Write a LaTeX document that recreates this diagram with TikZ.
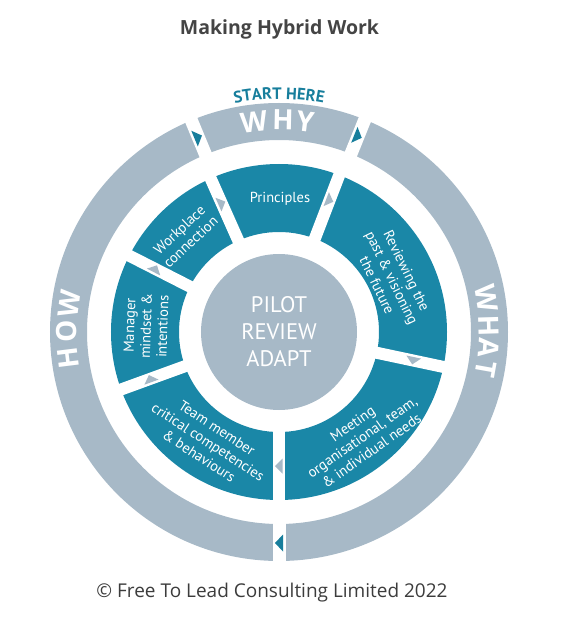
\documentclass[tikz,border=0pt]{standalone}
\usepackage{fontspec}
\setmainfont{Open Sans}
\newfontfamily\ptsans{PT Sans}
\usetikzlibrary{decorations.text}
\definecolor{tealseg}{HTML}{1A87A7}
\definecolor{tealdark}{HTML}{177E9C}
\definecolor{ringgray}{HTML}{A7B9C7}
\definecolor{titlegray}{HTML}{444444}
\definecolor{copygray}{HTML}{3C3C3C}
\begin{document}
\begin{tikzpicture}[x=1pt,y=1pt,
  segtext/.style={text=white, font=\ptsans\fontsize{14.5}{16.5}\selectfont, align=center, inner sep=0pt},
  ringletter/.style={text=white, font=\bfseries\fontsize{28}{28}\selectfont, anchor=base, inner sep=0pt},
  outercut/.style={white, line width=13pt},
  innercut/.style={white, line width=12pt},
  ]
\useasboundingbox (-279,-294) rectangle (281,332);
% outer ring
\fill[ringgray, even odd rule] (0,0) circle[radius=229] (0,0) circle[radius=192];
\foreach \a in {112.5,68,270} \draw[outercut] (\a:186) -- (\a:235);
\foreach \a in {112.5,68,270} \fill[tealdark, rotate=\a] (202.5,4) -- (219.5,4) -- (211,-4) -- cycle;
% teal ring
\fill[tealseg, even odd rule] (0,0) circle[radius=168] (0,0) circle[radius=100];
\foreach \a in {114,69,-12,270,200,153} \draw[innercut] (\a:94) -- (\a:174);
\foreach \a/\r in {114/141,69/141,-12/137,270/134,200/137,153/139}
  \fill[ringgray, rotate=\a] (\r-7.5,3.5) -- (\r+7.5,3.5) -- (\r,-4) -- cycle;
% hub
\node[circle, fill=ringgray, minimum size=156pt, inner sep=0pt, text=white, align=center,
  font=\ptsans\fontsize{22.5}{27}\selectfont] (hub) at (0,0) {PILOT\\REVIEW\\ADAPT};
% ring words
\foreach \l/\a/\r [count=\i] in {W/96.8/202, H/88.9/202, Y/82.9/202,
  H/187.1/202, O/179.7/202, W/172.3/202,
  W/9.2/200, H/1.7/200, A/-4.3/200, T/-10.1/200}
  \node[ringletter, rotate=\a-90] (ringltr\i) at (\a:\r) {\l};
\path[decorate, decoration={text along path,
  text={|\ptsans\bfseries\fontsize{16.5}{16.5}\selectfont|START HERE},
  text align=center, text color=tealdark}]
  (125:233) arc[start angle=125, end angle=55, radius=233];
% segment texts
\node[segtext] (principles) at (1,133) {Principles};
\node[segtext, rotate=43] (workplace) at (-94,96) {Workplace\\connection};
\node[segtext, rotate=88] (manager) at (-133,6) {Manager\\mindset \&\\intentions};
\node[segtext, rotate=-33] (team) at (-71,-110) {Team member\\critical competencies\\\& behaviours};
\node[segtext, rotate=35] (meeting) at (83,-105) {Meeting\\organisational, team,\\\& individual needs};
\node[segtext, rotate=-64] (reviewing) at (113,54) {Reviewing the\\past \& visioning\\the future};
% title and footer
\node[font=\bfseries\fontsize{19.5}{20}\selectfont, text=titlegray, anchor=base] (title) at (0.5,297) {Making Hybrid Work};
\node[font=\fontsize{19}{20}\selectfont, text=copygray, anchor=base] (copyright) at (-7,-265) {© Free To Lead Consulting Limited 2022};
\end{tikzpicture}
\end{document}
